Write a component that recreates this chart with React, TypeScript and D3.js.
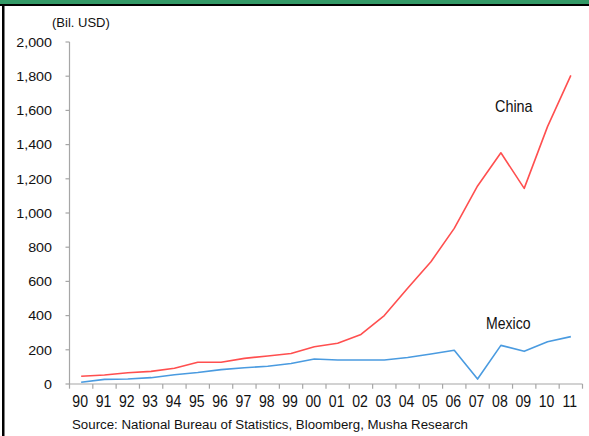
import React from "react";
import * as d3 from "d3";

// Annual values, billions of USD
const years = ["90","91","92","93","94","95","96","97","98","99","00","01","02","03","04","05","06","07","08","09","10","11"];
const china = [45, 53, 66, 74, 92, 127, 127, 150, 164, 178, 218, 238, 290, 400, 560, 715, 910, 1158, 1352, 1144, 1505, 1805];
const mexico = [10, 27, 29, 37, 54, 67, 84, 95, 104, 120, 146, 140, 140, 140, 155, 175, 197, 29, 226, 191, 247, 277];
const yTicks = [0, 200, 400, 600, 800, 1000, 1200, 1400, 1600, 1800, 2000];

const W = 589;
const H = 436;
const axisColor = "#a6a6a6";
const font = "'Liberation Sans', Arial, sans-serif";

export default function App() {
  const x = d3.scaleBand<string>().domain(years).range([69.5, 582.5]);
  const y = d3.scaleLinear().domain([0, 2000]).range([384, 42]);
  const cx = (i: number) => (x(years[i]) as number) + x.bandwidth() / 2;
  const line = d3
    .line<number>()
    .x((_, i) => cx(i))
    .y((d) => y(d));
  const fmt = d3.format(",");
  const bounds = [...years.map((yr) => x(yr) as number), 582.5];

  return (
    <svg
      width={W}
      height={H}
      style={{ position: "fixed", left: 0, top: 0, background: "#fff" }}
      fontFamily={font}
    >
      {/* frame */}
      <rect x={0} y={0} width={W} height={4} fill="#339966" />
      <rect x={0} y={4} width={W} height={2} fill="#000" />
      <rect x={2} y={4} width={2.5} height={H - 4} fill="#000" />

      {/* unit */}
      <text x={52} y={27} fontSize={13} fill="#111">(Bil. USD)</text>

      {/* y axis */}
      <line x1={69.5} x2={69.5} y1={y(2000)} y2={y(0)} stroke={axisColor} strokeWidth={1.2} />
      {yTicks.map((t) => (
        <g key={t}>
          <line x1={65.5} x2={69.5} y1={y(t)} y2={y(t)} stroke={axisColor} strokeWidth={1.2} />
          <text
            transform={`translate(52,${y(t) + 4.7}) scale(1.1,1)`}
            textAnchor="end"
            fontSize={13}
            fill="#111"
          >
            {fmt(t)}
          </text>
        </g>
      ))}

      {/* x axis */}
      <line x1={69.5} x2={582.5} y1={y(0)} y2={y(0)} stroke={axisColor} strokeWidth={1.2} />
      {bounds.map((b, i) => (
        <line key={i} x1={b} x2={b} y1={y(0)} y2={y(0) + 4.7} stroke={axisColor} strokeWidth={1.2} />
      ))}
      {years.map((yr, i) => (
        <text
          key={yr}
          transform={`translate(${cx(i) - 1},407) scale(0.88,1)`}
          textAnchor="middle"
          fontSize={16}
          fill="#111"
        >
          {yr}
        </text>
      ))}

      {/* series */}
      <path d={line(mexico) as string} fill="none" stroke="#4a9be0" strokeWidth={1.6} strokeLinejoin="round" />
      <path d={line(china) as string} fill="none" stroke="#ff4f4f" strokeWidth={1.6} strokeLinejoin="round" />

      <text transform="translate(495,112) scale(0.9,1)" fontSize={16} fill="#111">China</text>
      <text transform="translate(486,329) scale(0.88,1)" fontSize={16} fill="#111">Mexico</text>

      {/* source */}
      <text x={72} y={429} fontSize={12.5} fill="#111" textLength={396} lengthAdjust="spacingAndGlyphs">
        Source: National Bureau of Statistics, Bloomberg, Musha Research
      </text>
    </svg>
  );
}
